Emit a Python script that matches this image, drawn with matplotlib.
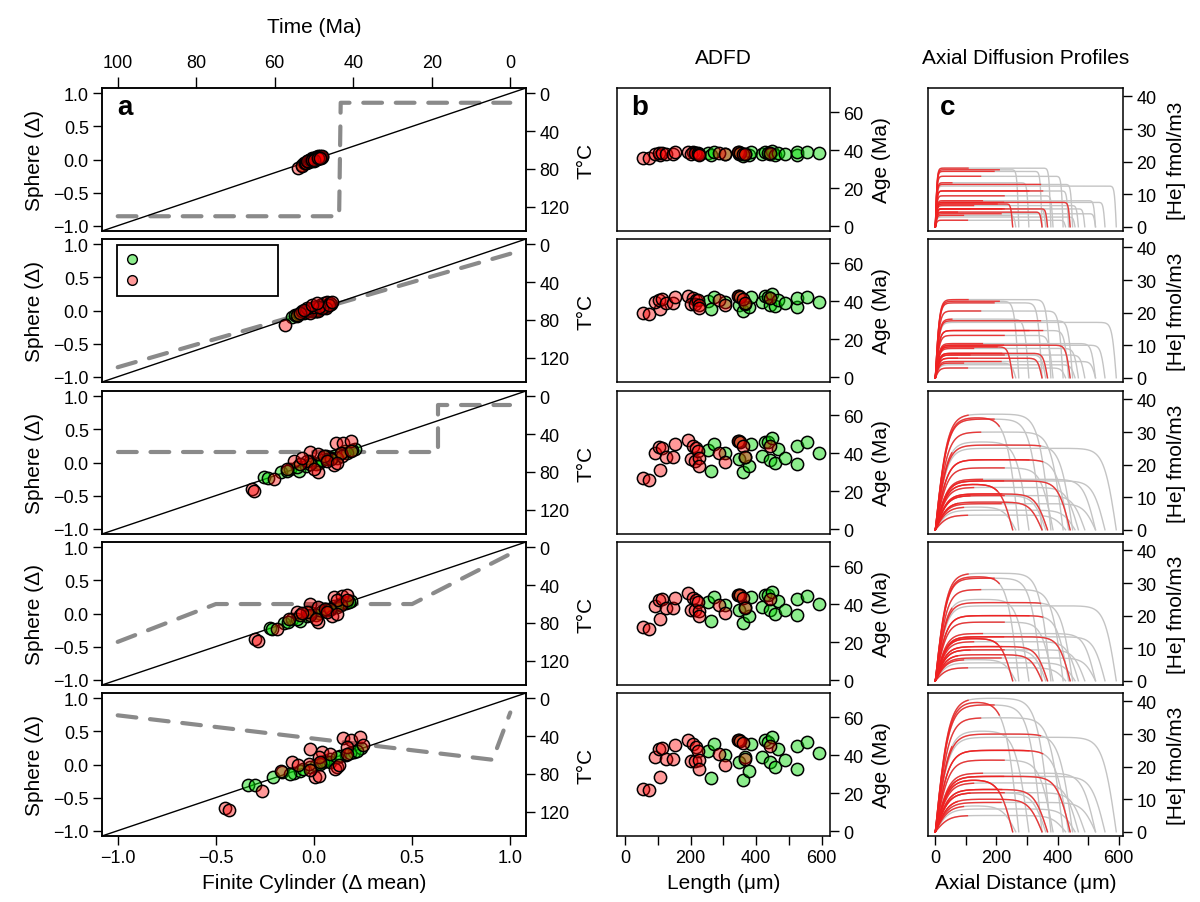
import numpy as np
import matplotlib.pyplot as plt
from matplotlib.lines import Line2D

plt.rcParams['font.family'] = ['Liberation Sans', 'DejaVu Sans']
plt.rcParams['axes.linewidth'] = 1.1

# ---------------- data ----------------
# thermal histories (time in Ma, temperature in deg C), one per row
tt_time = [[100, 43.6, 43.2, 0], [100, 0], [100, 18.5, 18.5, 0],
           [100, 75, 25, 0], [100, 4.5, 0]]
tt_temp = [[130, 130, 10, 10], [130, 10], [59, 59, 9, 9],
           [100, 60, 60, 7], [18, 65, 15]]

# panel a: finite cylinder delta (x) vs sphere delta (y)
cyl_green = [
    [-0.06, -0.05, -0.04, -0.035, -0.03, -0.02, -0.015, -0.01, 0.0, 0.005, 0.01,
     0.015, 0.02, 0.025, 0.03, 0.035, -0.025, -0.005, 0.012, 0.022, 0.04, 0.0],
    [-0.112, -0.095, -0.078, -0.06, -0.045, -0.03, -0.015, 0.0, 0.012, 0.025, 0.038,
     0.05, 0.062, 0.075, 0.088, -0.05, -0.02, 0.01, 0.03, 0.055, 0.07, -0.085],
    [-0.256, -0.235, -0.167, -0.12, -0.077, -0.043, 0.025, 0.059, 0.101, 0.16, 0.21,
     0.042, 0.008, -0.086, 0.085, 0.136, -0.018, -0.137, 0.17, 0.067, 0.118, 0.195],
    [-0.226, -0.214, -0.151, -0.112, -0.073, -0.038, 0.025, 0.059, 0.101, 0.153, 0.187,
     0.042, 0.008, -0.086, 0.085, 0.132, -0.018, -0.134, 0.161, 0.067, 0.115, 0.178],
    [-0.335, -0.301, -0.21, -0.165, -0.10, -0.07, 0.009, 0.057, 0.079, 0.134, 0.202,
     0.241, 0.164, 0.048, -0.02, 0.083, -0.12, 0.117, 0.185, 0.032, -0.054, 0.219],
]
sph_green = [
    [-0.08, -0.06, -0.05, -0.04, -0.02, -0.03, 0.0, -0.01, 0.01, 0.0, 0.02,
     0.01, 0.03, 0.02, 0.04, 0.03, -0.01, 0.0, 0.01, 0.02, 0.04, -0.02],
    [-0.105, -0.065, -0.06, -0.03, -0.03, -0.005, 0.0, 0.02, 0.0, 0.04, 0.05,
     0.06, 0.08, 0.08, 0.1, -0.045, 0.02, -0.01, 0.03, 0.05, 0.1, -0.09],
    [-0.225, -0.235, -0.15, -0.10, -0.125, -0.05, 0.0, 0.10, 0.10, 0.175, 0.20,
     0.04, -0.025, -0.075, 0.075, 0.14, 0.025, -0.125, 0.15, 0.05, 0.075, 0.185],
    [-0.215, -0.23, -0.145, -0.08, -0.115, -0.045, 0.01, 0.07, 0.11, 0.17, 0.195,
     0.045, -0.02, -0.08, 0.07, 0.145, 0.02, -0.13, 0.16, 0.06, 0.095, 0.18],
    [-0.305, -0.305, -0.19, -0.115, -0.125, -0.105, -0.015, 0.06, 0.085, 0.135, 0.185,
     0.245, 0.145, 0.035, -0.04, 0.035, -0.14, 0.11, 0.17, 0.01, -0.075, 0.21],
]
cyl_pink = [
    [-0.08, -0.06, -0.045, -0.04, -0.03, -0.025, -0.02, -0.015, -0.01, -0.005, 0.0, 0.005,
     0.01, 0.015, 0.02, 0.025, 0.03, 0.035, 0.04, -0.035, -0.01, 0.0, 0.02, 0.03],
    [-0.146, -0.086, -0.06, -0.043, -0.027, -0.01, 0.008, 0.02, 0.033, 0.05, 0.067, 0.084,
     0.059, -0.018, -0.001, -0.035, 0.042, -0.069, 0.025, 0.076, -0.052, -0.01, 0.093, 0.013],
    [-0.316, -0.304, -0.205, -0.103, -0.021, 0.02, 0.11, 0.15, 0.19, 0.101, -0.018, 0.02,
     -0.035, -0.069, 0.144, 0.136, 0.085, -0.137, 0.0, 0.05, 0.19, -0.06, 0.067, 0.118],
    [-0.299, -0.287, -0.188, -0.086, -0.018, 0.02, 0.101, 0.144, 0.166, 0.09, -0.018, 0.02,
     -0.038, -0.069, 0.136, 0.118, 0.081, -0.128, 0.008, 0.055, 0.17, -0.06, 0.067, 0.115],
    [-0.454, -0.432, -0.267, -0.113, -0.02, 0.04, 0.083, 0.146, 0.19, 0.233, 0.25, 0.168,
     0.006, 0.028, 0.117, 0.108, 0.125, -0.028, -0.02, -0.079, -0.17, 0.023, 0.168, 0.032],
]
sph_pink = [
    [-0.13, -0.10, -0.06, -0.05, -0.02, -0.04, 0.0, -0.01, 0.02, 0.0, 0.03, 0.01,
     0.04, 0.02, 0.05, 0.03, 0.06, 0.04, 0.05, -0.03, 0.0, -0.01, 0.03, 0.02],
    [-0.216, -0.065, -0.005, -0.015, 0.01, 0.035, 0.01, -0.015, 0.085, 0.11, 0.135, 0.11,
     0.035, -0.04, 0.06, 0.035, 0.035, -0.04, 0.06, 0.085, 0.01, 0.085, 0.135, 0.11],
    [-0.40, -0.43, -0.25, 0.025, 0.16, -0.14, 0.29, 0.29, 0.32, -0.04, -0.025, 0.125,
     0.025, -0.025, 0.10, 0.15, 0.05, -0.10, -0.10, 0.10, 0.18, 0.075, 0.025, 0.0],
    [-0.38, -0.42, -0.24, 0.03, 0.145, -0.13, 0.245, 0.26, 0.28, -0.045, -0.03, 0.095,
     0.03, -0.03, 0.13, 0.21, 0.07, -0.08, -0.08, 0.07, 0.21, 0.01, 0.03, -0.01],
    [-0.655, -0.69, -0.405, 0.035, 0.235, 0.185, 0.16, 0.40, 0.375, 0.42, 0.295, 0.26,
     -0.19, -0.175, -0.04, -0.075, -0.015, 0.01, -0.09, -0.015, -0.105, 0.11, 0.16, 0.035],
]

# panel b: grain length (um) and age (Ma)
len_green = [253, 263, 273, 306, 349, 361, 378, 385, 367, 418, 426,
             436, 449, 441, 457, 468, 489, 524, 524, 555, 592, 349]
len_pink = [54, 72, 107, 92, 105, 113, 125, 148, 154, 192, 209, 217,
            202, 215, 223, 225, 225, 288, 306, 344, 351, 359, 367, 443]
age_green = [
    [38.5, 37.3, 39.2, 38.3, 38.0, 37.0, 37.7, 39.3, 38.3, 38.3, 39.1,
     38.8, 39.5, 38.1, 37.7, 38.5, 38.0, 37.5, 38.9, 39.0, 38.5, 39.1],
    [40.4, 35.7, 42.0, 39.8, 38.0, 35.0, 37.2, 42.1, 38.6, 39.8, 42.8,
     42.5, 43.7, 38.0, 37.5, 40.7, 38.9, 37.2, 41.6, 42.5, 39.8, 42.8],
    [41.8, 30.8, 45.0, 40.0, 37.0, 29.9, 33.3, 45.0, 37.9, 38.8, 46.2,
     45.9, 48.0, 36.4, 34.7, 42.1, 37.3, 34.1, 43.9, 45.7, 40.4, 46.6],
    [41.2, 31.2, 43.9, 39.8, 36.8, 30.1, 33.6, 43.9, 38.6, 38.6, 45.1,
     44.8, 46.5, 36.8, 34.9, 41.8, 37.2, 34.2, 43.0, 44.4, 40.0, 45.1],
    [42.3, 28.0, 45.7, 40.0, 36.5, 26.9, 31.7, 46.2, 39.1, 39.1, 48.0,
     47.1, 49.4, 36.5, 34.0, 43.4, 37.3, 32.9, 45.0, 47.1, 41.4, 47.8],
]
age_pink = [
    [36.1, 35.7, 37.5, 38.3, 38.5, 38.8, 38.0, 38.1, 38.9, 39.3, 39.0, 38.7,
     38.3, 38.5, 38.8, 38.1, 37.7, 38.5, 37.9, 39.1, 38.5, 38.0, 37.8, 38.5],
    [33.6, 33.3, 35.7, 39.6, 40.7, 41.2, 38.9, 39.3, 42.1, 42.8, 41.6, 40.7,
     38.6, 38.6, 40.7, 38.0, 36.3, 40.7, 38.0, 42.8, 42.5, 41.1, 38.9, 41.6],
    [27.0, 26.1, 31.1, 40.0, 43.2, 42.7, 38.2, 37.9, 44.8, 47.1, 44.1, 42.7,
     36.8, 36.1, 41.4, 37.3, 33.3, 40.0, 35.6, 46.6, 45.9, 43.9, 38.2, 43.6],
    [27.8, 27.1, 32.0, 38.9, 42.1, 42.7, 38.1, 38.1, 43.5, 46.0, 43.4, 42.1,
     36.8, 36.8, 41.2, 36.3, 33.6, 39.5, 35.6, 45.1, 44.8, 43.4, 38.1, 42.7],
    [22.5, 21.5, 28.7, 39.3, 43.2, 43.9, 38.2, 38.2, 45.5, 48.3, 45.7, 44.4,
     36.8, 36.8, 42.1, 37.3, 32.6, 40.9, 34.7, 48.0, 47.4, 46.4, 38.2, 45.0],
]

# panel c: whole-grain profiles (grey) and fragment profiles (red)
prof_len = len_green
prof_height = [
    [7, 3.5, 17.5, 13.5, 17, 5.5, 18, 9.5, 5.5, 15.5, 2, 11, 13, 7.5, 3, 6.5, 5.5, 4, 8, 7.5, 12.5, 4.5],
    [9.5, 4.5, 23.5, 18, 23, 7, 24, 13, 7.5, 20.5, 3, 14.5, 17.5, 10, 4, 9, 7, 5, 10.5, 10, 17, 6],
    [14, 7, 34.5, 27, 34, 10.5, 35.5, 19, 11, 30, 4.5, 21.5, 26, 15, 6, 13, 10.5, 8, 15.5, 15, 25, 8.5],
    [13, 6.5, 32, 25, 31.5, 9.5, 33, 18, 10.5, 28, 4, 20, 24, 13.5, 5.5, 12, 9.5, 7, 14.5, 13.5, 23, 8],
    [16, 8, 40, 31, 39, 12, 41, 22, 13, 35, 5, 25, 30, 17, 7, 15, 12, 9, 18, 17, 29, 10],
]
frag_parent = [3, 21, 6, 1, 10, 5, 15, 9, 18, 4, 2, 8, 0, 17, 19, 16, 7, 0, 11, 12, 11, 21, 8, 13]
edge_width = [6, 14, 40, 38, 44]   # um, rounding of the profile ends per row

# ---------------- figure ----------------
W, H = 1200, 903
fig = plt.figure(figsize=(W / 100, H / 100), dpi=100)
row_tops = [89, 240, 392, 543, 694]
row_h = 143

GREEN = (0.0, 0.85, 0.0, 0.45)
PINK = (1.0, 0.0, 0.0, 0.4)
TICK = dict(direction='out', length=6.5, width=1.0, labelsize=13, pad=3)
LAB = 15
MS = 78


def box(left, width, top):
    return [left / W, 1 - (top + row_h) / H, width / W, row_h / H]


def profile(L, h, w, xend):
    x = np.linspace(0, min(L, xend), 300)
    return x, h * np.tanh(x / w) * np.tanh(np.maximum(L - x, 0) / w)


for i, top in enumerate(row_tops):
    last = i == len(row_tops) - 1

    # ---- panel a, thermal history layer (right / top axes) ----
    axT = fig.add_axes(box(102, 424, top))
    axT.set_xlim(104, -4)
    axT.set_ylim(145.6, -5.6)
    axT.plot(tt_time[i], tt_temp[i], color='#8a8a8a', lw=3,
             dashes=(4.5, 3.3), dash_capstyle='round', solid_joinstyle='round')
    axT.yaxis.tick_right()
    axT.yaxis.set_label_position('right')
    axT.set_yticks([0, 40, 80, 120])
    axT.set_ylabel('T°C', fontsize=LAB, labelpad=5)
    axT.tick_params(axis='y', **TICK)
    if i == 0:
        axT.xaxis.tick_top()
        axT.xaxis.set_label_position('top')
        axT.set_xticks([100, 80, 60, 40, 20, 0])
        axT.tick_params(axis='x', direction='out', length=8, width=1.0,
                        labelsize=13, pad=4)
        axT.set_xlabel('Time (Ma)', fontsize=LAB, labelpad=16)
    else:
        axT.set_xticks([])

    # ---- panel a, delta comparison layer (left / bottom axes) ----
    ax = fig.add_axes(box(102, 424, top))
    ax.patch.set_visible(False)
    ax.set_xlim(-1.08, 1.08)
    ax.set_ylim(-1.08, 1.08)
    ax.axline((0, 0), slope=1, color='black', lw=1.0, zorder=1)
    ax.scatter(cyl_green[i], sph_green[i], s=MS, facecolor=GREEN,
               edgecolor='black', linewidth=1.1, zorder=3)
    ax.scatter(cyl_pink[i], sph_pink[i], s=MS, facecolor=PINK,
               edgecolor='black', linewidth=1.1, zorder=3)
    ax.set_yticks([-1, -0.5, 0, 0.5, 1])
    ax.set_yticklabels(['−1.0', '−0.5', '0.0', '0.5', '1.0'])
    ax.set_ylabel('Sphere (Δ)', fontsize=LAB, labelpad=7)
    ax.tick_params(**TICK)
    if last:
        ax.set_xticks([-1, -0.5, 0, 0.5, 1])
        ax.set_xticklabels(['−1.0', '−0.5', '0.0', '0.5', '1.0'])
        ax.set_xlabel('Finite Cylinder (Δ mean)', fontsize=LAB, labelpad=5)
    else:
        ax.set_xticks([])
    if i == 0:
        ax.text(0.054, 0.87, 'a', transform=ax.transAxes, fontsize=20,
                fontweight='bold', ha='center', va='center')
    if i == 1:
        handles = [Line2D([], [], ls='none', marker='o', ms=7, mfc=GREEN, mec='black', mew=1),
                   Line2D([], [], ls='none', marker='o', ms=7, mfc=PINK, mec='black', mew=1)]
        leg = ax.legend(handles, [' ', ' '], loc='upper left', mode='expand',
                        bbox_to_anchor=(0.035, 0.3, 0.38, 0.655), borderaxespad=0,
                        fancybox=False, framealpha=1, handlelength=1.0,
                        handletextpad=0.4, borderpad=0.5, labelspacing=0.5, fontsize=11)
        leg.get_frame().set_edgecolor('black')
        leg.get_frame().set_linewidth(1.3)

    # ---- panel b: ADFD ----
    axB = fig.add_axes(box(617, 213, top))
    axB.set_xlim(-24, 625)
    axB.set_ylim(-2.5, 72.8)
    axB.scatter(len_green, age_green[i], s=MS, facecolor=GREEN,
                edgecolor='black', linewidth=1.1, zorder=3)
    axB.scatter(len_pink, age_pink[i], s=MS, facecolor=PINK,
                edgecolor='black', linewidth=1.1, zorder=3)
    axB.yaxis.tick_right()
    axB.yaxis.set_label_position('right')
    axB.set_yticks([0, 20, 40, 60])
    axB.set_ylabel('Age (Ma)', fontsize=LAB, labelpad=6)
    axB.tick_params(**TICK)
    if last:
        axB.set_xticks(range(0, 601, 100))
        axB.set_xticklabels(['0', '', '200', '', '400', '', '600'])
        axB.set_xlabel('Length (μm)', fontsize=LAB, labelpad=5)
    else:
        axB.set_xticks([])
    if i == 0:
        axB.set_title('ADFD', fontsize=LAB, pad=18)
        axB.text(0.108, 0.87, 'b', transform=axB.transAxes, fontsize=20,
                 fontweight='bold', ha='center', va='center')

    # ---- panel c: axial diffusion profiles ----
    axC = fig.add_axes(box(928, 195, top))
    axC.set_xlim(-24, 614)
    axC.set_ylim(-1.3, 42.6)
    for L, h in zip(prof_len, prof_height[i]):
        x, c = profile(L, h, edge_width[i], L)
        axC.plot(x, c, color='#c4c4c4', lw=1.0, zorder=2)
    for Lf, p in zip(len_pink, frag_parent):
        x, c = profile(prof_len[p], prof_height[i][p], edge_width[i], Lf)
        axC.plot(x, c, color='#f02020', lw=1.0, alpha=0.85, zorder=3)
    axC.yaxis.tick_right()
    axC.yaxis.set_label_position('right')
    axC.set_yticks([0, 10, 20, 30, 40])
    axC.set_ylabel('[He] fmol/m3', fontsize=LAB, labelpad=8)
    axC.tick_params(**TICK)
    if last:
        axC.set_xticks(range(0, 601, 100))
        axC.set_xticklabels(['0', '', '200', '', '400', '', '600'])
        axC.set_xlabel('Axial Distance (μm)', fontsize=LAB, labelpad=5)
    else:
        axC.set_xticks([])
    if i == 0:
        axC.set_title('Axial Diffusion Profiles', fontsize=LAB, pad=18)
        axC.text(0.103, 0.87, 'c', transform=axC.transAxes, fontsize=20,
                 fontweight='bold', ha='center', va='center')

fig.savefig('out.png', dpi=100)
